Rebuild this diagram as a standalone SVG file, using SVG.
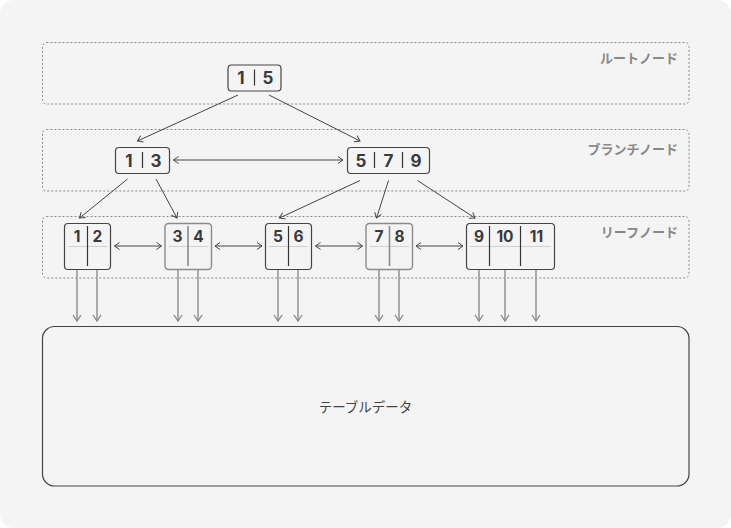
<svg xmlns="http://www.w3.org/2000/svg" width="731" height="528" viewBox="0 0 731 528">
<style>
.lvl{fill:none;stroke:#8a8a8a;stroke-width:1;stroke-dasharray:2 2}
.lbl{font-family:Inter,"Noto Sans CJK JP",sans-serif;font-size:13px;font-weight:bold;fill:#888;text-anchor:end}
.box{fill:#f4f4f4;stroke:#444;stroke-width:1.2}
.boxg{fill:#f4f4f4;stroke:#8a8a8a;stroke-width:1.4}
.num{font-family:Inter,"Noto Sans CJK JP",sans-serif;font-size:17px;font-weight:bold;fill:#3a3a3a;text-anchor:middle}
.lnum{font-family:Inter,"Noto Sans CJK JP",sans-serif;font-size:15.5px;font-weight:bold;fill:#3a3a3a;text-anchor:middle}
.div{stroke:#333;stroke-width:1.2}
.divg{stroke:#8a8a8a;stroke-width:1.6}
.hl{stroke:#d0d0d0;stroke-width:1}
.edge{fill:none;stroke:#444;stroke-width:1}
.ptr{fill:none;stroke:#999;stroke-width:1.6}
</style>
<defs>
<marker id="ah" markerUnits="userSpaceOnUse" markerWidth="10" markerHeight="10" refX="6" refY="4" orient="auto-start-reverse">
<path d="M1,0.5 L6,4 L1,7.5" fill="none" stroke="#444" stroke-width="1"/>
</marker>
<marker id="ahg" markerUnits="userSpaceOnUse" markerWidth="12" markerHeight="12" refX="7" refY="5" orient="auto">
<path d="M1,1 L7,5 L1,9" fill="none" stroke="#888" stroke-width="1.3"/>
</marker>
</defs>
<rect x="0" y="0" width="731" height="528" fill="#ffffff"/>
<rect x="0" y="0" width="731" height="528" rx="14" fill="#f4f4f4"/>

<g id="levels">
<rect class="lvl" x="42.5" y="42.5" width="646.5" height="61.5" rx="4"/>
<rect class="lvl" x="42.5" y="129.5" width="646.5" height="61.5" rx="4"/>
<rect class="lvl" x="42.5" y="216.5" width="646.5" height="61.5" rx="4"/>
<text class="lbl" x="678" y="62.5">ルートノード</text>
<text class="lbl" x="678" y="153.5">ブランチノード</text>
<text class="lbl" x="678" y="236.5">リーフノード</text>
</g>

<g id="connectors">
<line class="edge" x1="238" y1="95" x2="137.5" y2="141" marker-end="url(#ah)"/>
<line class="edge" x1="269" y1="95" x2="360" y2="141" marker-end="url(#ah)"/>
<line class="edge" x1="173.5" y1="160" x2="343" y2="160" marker-start="url(#ah)" marker-end="url(#ah)"/>
<line class="edge" x1="127.5" y1="179" x2="79.5" y2="218" marker-end="url(#ah)"/>
<line class="edge" x1="156" y1="179" x2="177" y2="218" marker-end="url(#ah)"/>
<line class="edge" x1="360" y1="180.5" x2="279.5" y2="218" marker-end="url(#ah)"/>
<line class="edge" x1="388.5" y1="180.5" x2="376.5" y2="218" marker-end="url(#ah)"/>
<line class="edge" x1="417.5" y1="180.5" x2="475" y2="218" marker-end="url(#ah)"/>
<line class="edge" x1="114.5" y1="246" x2="161.5" y2="246" marker-start="url(#ah)" marker-end="url(#ah)"/>
<line class="edge" x1="215" y1="246" x2="262" y2="246" marker-start="url(#ah)" marker-end="url(#ah)"/>
<line class="edge" x1="315.5" y1="246" x2="362.5" y2="246" marker-start="url(#ah)" marker-end="url(#ah)"/>
<line class="edge" x1="416" y1="246" x2="463" y2="246" marker-start="url(#ah)" marker-end="url(#ah)"/>
<line class="ptr" x1="77" y1="259" x2="77" y2="321" marker-end="url(#ahg)"/>
<line class="ptr" x1="97" y1="259" x2="97" y2="321" marker-end="url(#ahg)"/>
<line class="ptr" x1="178" y1="259" x2="178" y2="321" marker-end="url(#ahg)"/>
<line class="ptr" x1="198" y1="259" x2="198" y2="321" marker-end="url(#ahg)"/>
<line class="ptr" x1="278" y1="259" x2="278" y2="321" marker-end="url(#ahg)"/>
<line class="ptr" x1="298" y1="259" x2="298" y2="321" marker-end="url(#ahg)"/>
<line class="ptr" x1="379" y1="259" x2="379" y2="321" marker-end="url(#ahg)"/>
<line class="ptr" x1="399" y1="259" x2="399" y2="321" marker-end="url(#ahg)"/>
<line class="ptr" x1="479" y1="259" x2="479" y2="321" marker-end="url(#ahg)"/>
<line class="ptr" x1="505" y1="259" x2="505" y2="321" marker-end="url(#ahg)"/>
<line class="ptr" x1="536" y1="259" x2="536" y2="321" marker-end="url(#ahg)"/>
</g>

<g id="root-1-5">
<rect class="box" x="228" y="65" width="53" height="26" rx="3.5"/>
<line class="div" x1="254.5" y1="69.5" x2="254.5" y2="85.5"/>
<text class="num" x="241" y="84">1</text>
<text class="num" x="268" y="84">5</text>
</g>

<g id="branch-1-3">
<rect class="box" x="115.5" y="147.5" width="54" height="26" rx="3.5"/>
<line class="div" x1="142.5" y1="152" x2="142.5" y2="168"/>
<text class="num" x="129" y="166.5">1</text>
<text class="num" x="156" y="166.5">3</text>
</g>

<g id="branch-5-7-9">
<rect class="box" x="347.5" y="147.5" width="82" height="26" rx="3.5"/>
<line class="div" x1="374.5" y1="152" x2="374.5" y2="168"/>
<line class="div" x1="402.5" y1="152" x2="402.5" y2="168"/>
<text class="num" x="361" y="166.5">5</text>
<text class="num" x="388.5" y="166.5">7</text>
<text class="num" x="416" y="166.5">9</text>
</g>

<g id="leaf-1-2">
<rect class="box" x="64.5" y="223.5" width="46" height="46" rx="3.5"/>
<line class="hl" x1="68" y1="246.5" x2="107" y2="246.5"/>
<line class="div" x1="87.5" y1="226" x2="87.5" y2="266"/>
<text class="lnum" x="77" y="242.3">1</text>
<text class="lnum" x="97.5" y="242.3">2</text>
</g>

<g id="leaf-3-4">
<rect class="boxg" x="165" y="223.5" width="46.5" height="46" rx="3.5"/>
<line class="hl" x1="168.5" y1="246.5" x2="208" y2="246.5"/>
<line class="divg" x1="188" y1="226" x2="188" y2="266"/>
<text class="lnum" x="177.5" y="242.3">3</text>
<text class="lnum" x="198.5" y="242.3">4</text>
</g>

<g id="leaf-5-6">
<rect class="box" x="265.5" y="223.5" width="46" height="46" rx="3.5"/>
<line class="hl" x1="269" y1="246.5" x2="308" y2="246.5"/>
<line class="div" x1="288.5" y1="226" x2="288.5" y2="266"/>
<text class="lnum" x="278" y="242.3">5</text>
<text class="lnum" x="298.5" y="242.3">6</text>
</g>

<g id="leaf-7-8">
<rect class="boxg" x="366" y="223.5" width="46.5" height="46" rx="3.5"/>
<line class="hl" x1="369.5" y1="246.5" x2="409" y2="246.5"/>
<line class="divg" x1="389.5" y1="226" x2="389.5" y2="266"/>
<text class="lnum" x="379" y="242.3">7</text>
<text class="lnum" x="399.5" y="242.3">8</text>
</g>

<g id="leaf-9-10-11">
<rect class="box" x="466.5" y="223.5" width="88" height="46" rx="3.5"/>
<line class="hl" x1="470" y1="246.5" x2="551" y2="246.5"/>
<line class="div" x1="489.5" y1="226" x2="489.5" y2="266"/>
<line class="div" x1="520.5" y1="226" x2="520.5" y2="266"/>
<text class="lnum" x="479" y="242.3">9</text>
<text class="lnum" x="505" y="242.3">10</text>
<text class="lnum" x="536.5" y="242.3">11</text>
</g>

<g id="table-data">
<rect x="42.5" y="326.5" width="646.5" height="159.5" rx="12" fill="none" stroke="#444" stroke-width="1.2"/>
<text x="365.5" y="412" font-family="Inter,'Noto Sans CJK JP',sans-serif" font-size="13.5" fill="#444" text-anchor="middle">テーブルデータ</text>
</g>
</svg>
